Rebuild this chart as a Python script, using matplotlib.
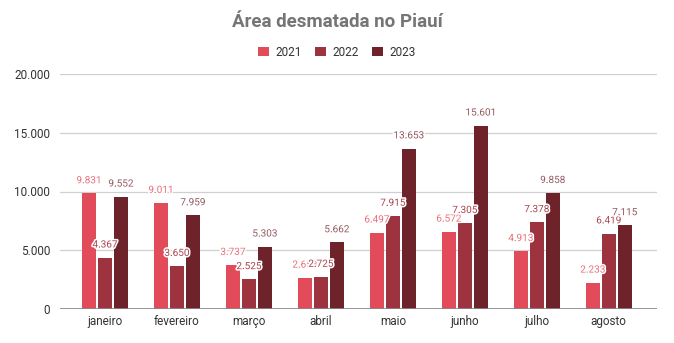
import numpy as np
import matplotlib.pyplot as plt
import matplotlib.patheffects as pe

plt.rcParams['font.family'] = ['Roboto', 'DejaVu Sans']

# dados
meses = ["janeiro", "fevereiro", "março", "abril", "maio", "junho", "julho", "agosto"]
anos = ["2021", "2022", "2023"]
area_2021 = [9831, 9011, 3737, 2653, 6497, 6572, 4913, 2233]
area_2022 = [4367, 3650, 2525, 2725, 7915, 7305, 7378, 6419]
area_2023 = [9552, 7959, 5303, 5662, 13653, 15601, 9858, 7115]
y_ticks = [0, 5000, 10000, 15000, 20000]

cores = ["#e24c5a", "#9e3340", "#6e232b"]
cores_rotulo = ["#e8707b", "#a94450", "#935a61"]


def fmt(v):
    return "{:,}".format(v).replace(",", ".")


fig = plt.figure(figsize=(6.74, 3.43), dpi=100)
ax = fig.add_axes([60 / 674, 1 - 309 / 343, 597 / 674, 235 / 343])

x = np.arange(len(meses))
larg = 0.19
desloc = 0.222
series = [area_2021, area_2022, area_2023]

for i, (serie, cor, cor_r, ano) in enumerate(zip(series, cores, cores_rotulo, anos)):
    pos = x + (i - 1) * desloc
    ax.bar(pos, serie, width=larg, color=cor, label=ano, zorder=3)
    for px, v in zip(pos, serie):
        ax.annotate(fmt(v), (px, v), xytext=(0, 9.5), textcoords="offset points",
                    ha="center", va="center", fontsize=7.2, color=cor_r, zorder=5,
                    path_effects=[pe.withStroke(linewidth=2.2, foreground="white")])

ax.set_xlim(-0.625, 7.67)
ax.set_ylim(0, 20000)
ax.set_yticks(y_ticks)
ax.set_yticklabels([fmt(t) for t in y_ticks])
ax.set_xticks(x)
ax.set_xticklabels(meses)
ax.tick_params(axis="both", length=0, labelsize=8.5, labelcolor="#333333")
ax.tick_params(axis="y", pad=7)
ax.tick_params(axis="x", pad=4)

ax.grid(axis="y", color="#d0d0d0", linewidth=0.9, zorder=0)
ax.axhline(0, color="#888888", linewidth=1.2, zorder=4)
for s in ax.spines.values():
    s.set_visible(False)

fig.text(0.5, 1 - 22 / 343, "Área desmatada no Piauí", ha="center", va="center",
         fontsize=13.5, fontweight="bold", color="#757575")

fig.legend(loc="center", bbox_to_anchor=(0.5, 1 - 52 / 343), ncol=3, frameon=False,
           fontsize=8.5, handlelength=0.9, handleheight=0.9, handletextpad=0.6,
           columnspacing=1.1, labelcolor="#333333")

fig.savefig("out.png", dpi=100)
